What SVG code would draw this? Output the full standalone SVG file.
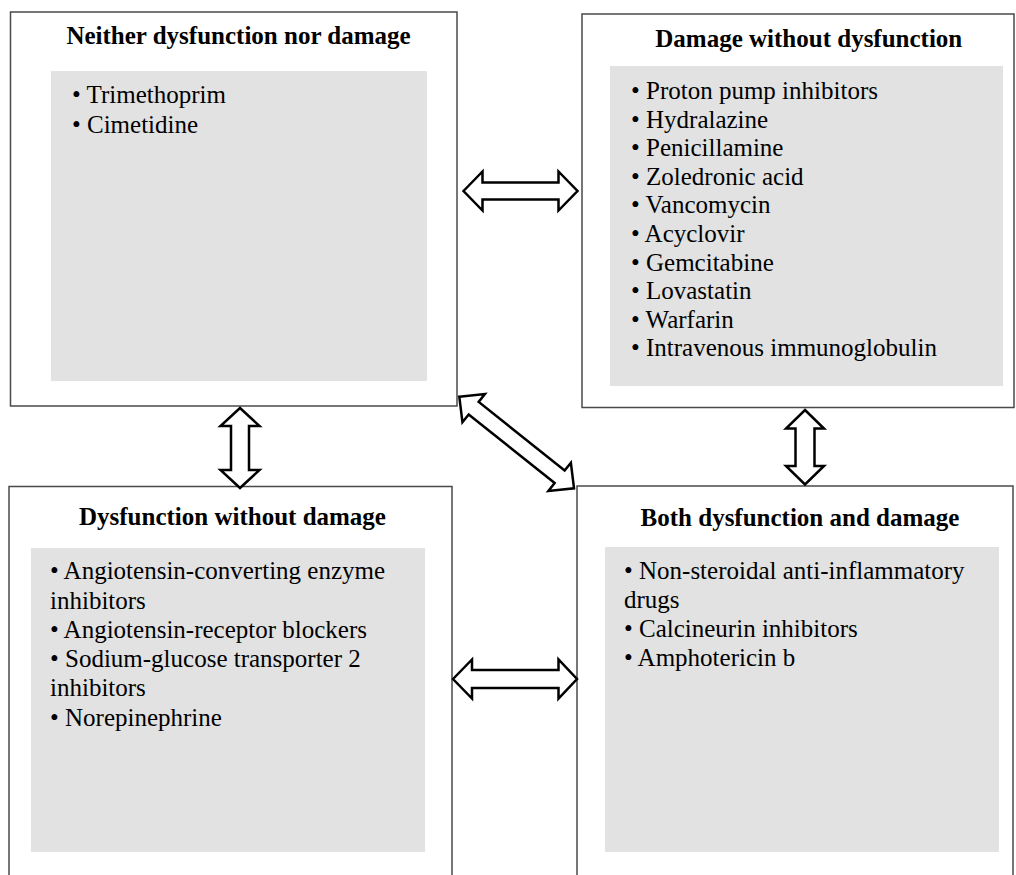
<svg xmlns="http://www.w3.org/2000/svg" width="1016" height="875" viewBox="0 0 1016 875">
<style>
.box{fill:#ffffff;stroke:#4a4a4a;stroke-width:1.5}
.panel{fill:#e2e2e2;stroke:none}
.title{font-family:"Liberation Serif","Times New Roman",serif;font-weight:bold;font-size:25px;fill:#000;text-anchor:middle}
.item{font-family:"Liberation Serif","Times New Roman",serif;font-size:25px;fill:#000}
.arrow{fill:#ffffff;stroke:#000;stroke-width:2.5;stroke-linejoin:miter}
</style>
<rect width="1016" height="875" fill="#ffffff"/>
<g id="neither">
<rect class="box" x="10.5" y="12" width="446.5" height="394"/>
<rect class="panel" x="51" y="71" width="376" height="310"/>
<text class="title" x="238.5" y="44">Neither dysfunction nor damage</text>
<text class="item" x="72" y="103">• Trimethoprim</text>
<text class="item" x="72" y="133">• Cimetidine</text>
</g>
<g id="damage-only">
<rect class="box" x="582" y="14" width="432" height="393.5"/>
<rect class="panel" x="610" y="66" width="393" height="320"/>
<text class="title" x="808.8" y="47">Damage without dysfunction</text>
<text class="item" x="631" y="99">• Proton pump inhibitors</text>
<text class="item" x="631" y="127.6">• Hydralazine</text>
<text class="item" x="631" y="156.2">• Penicillamine</text>
<text class="item" x="631" y="184.8">• Zoledronic acid</text>
<text class="item" x="631" y="213.4">• Vancomycin</text>
<text class="item" x="631" y="242">• Acyclovir</text>
<text class="item" x="631" y="270.6">• Gemcitabine</text>
<text class="item" x="631" y="299.2">• Lovastatin</text>
<text class="item" x="631" y="327.8">• Warfarin</text>
<text class="item" x="631" y="356.4">• Intravenous immunoglobulin</text>
</g>
<g id="dysfunction-only">
<rect class="box" x="9" y="486.5" width="443" height="400"/>
<rect class="panel" x="31" y="548" width="394" height="304"/>
<text class="title" x="232.5" y="525">Dysfunction without damage</text>
<text class="item" x="50" y="579">• Angiotensin-converting enzyme</text>
<text class="item" x="50" y="608.5">inhibitors</text>
<text class="item" x="50" y="638">• Angiotensin-receptor blockers</text>
<text class="item" x="50" y="667">• Sodium-glucose transporter 2</text>
<text class="item" x="50" y="696">inhibitors</text>
<text class="item" x="50" y="725.5">• Norepinephrine</text>
</g>
<g id="both">
<rect class="box" x="577" y="486" width="436" height="400"/>
<rect class="panel" x="605" y="547" width="394" height="305"/>
<text class="title" x="800" y="525.7">Both dysfunction and damage</text>
<text class="item" x="624" y="579">• Non-steroidal anti-inflammatory</text>
<text class="item" x="624" y="608">drugs</text>
<text class="item" x="624" y="637">• Calcineurin inhibitors</text>
<text class="item" x="624" y="665.5">• Amphotericin b</text>
</g>
<g id="connectors">
<path class="arrow" d="M463.5,191 L482.5,171.5 L482.5,182.5 L558.5,182.5 L558.5,171.5 L577.5,191 L558.5,210.5 L558.5,199.5 L482.5,199.5 L482.5,210.5 Z"/>
<path class="arrow" d="M453,679 L472,659.5 L472,670 L558.5,670 L558.5,659.5 L577,679 L558.5,698.5 L558.5,688 L472,688 L472,698.5 Z"/>
<path class="arrow" d="M240,408 L259.5,426 L249,426 L249,470 L259.5,470 L240,488 L220.5,470 L231,470 L231,426 L220.5,426 Z"/>
<path class="arrow" d="M805,410 L824,428.5 L814.5,428.5 L814.5,466 L824,466 L805,484.5 L786,466 L795.5,466 L795.5,428.5 L786,428.5 Z"/>
<path class="arrow" transform="translate(459.3,396.7) rotate(38.6)" d="M0,0 L18.4,-18 L18.4,-8 L128.4,-8 L128.4,-18 L146.8,0 L128.4,18 L128.4,8 L18.4,8 L18.4,18 Z"/>
</g>
</svg>
